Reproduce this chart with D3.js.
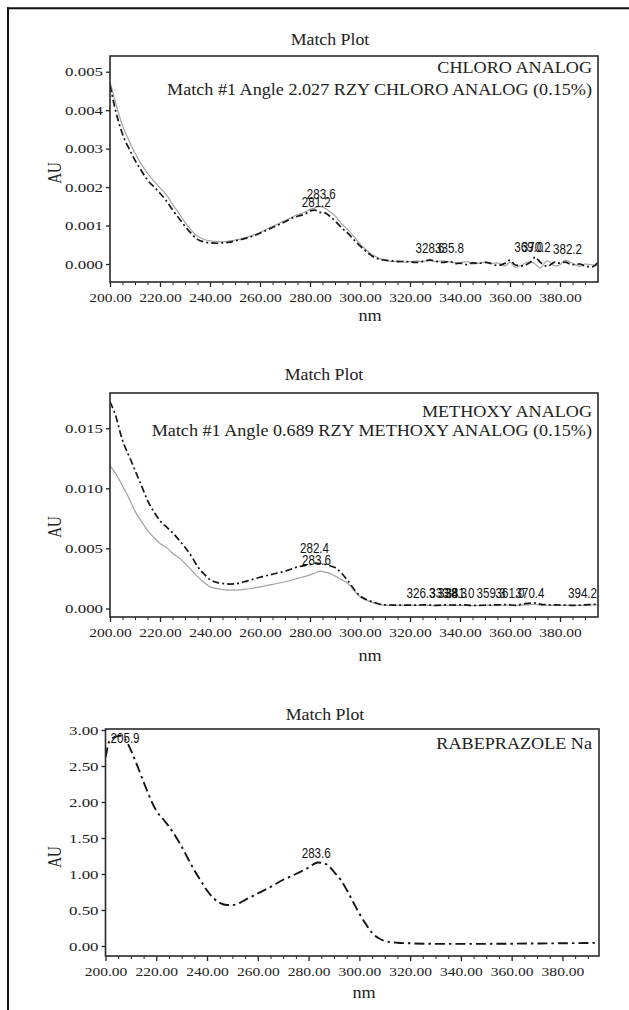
<!DOCTYPE html>
<html>
<head>
<meta charset="utf-8">
<script src="https://cdn.jsdelivr.net/npm/d3@7"></script>
<style>
  body { margin: 0; background: #fff; }
  svg { display: block; }
  .serif { font-family: "Liberation Serif", "Times New Roman", serif; fill: #222; }
  .peak { font-family: "Liberation Sans", Arial, sans-serif; fill: #111; }
  .tick line { stroke: #222; }
</style>
</head>
<body>
<svg id="chart" width="629" height="1010"></svg>
<script>
// ---- Panel 1: chloro analog (AU) ----
const nm1 = [200,202,205,208,210,213,215,218,220,223,225,228,230,233,235,238,240,243,245,248,
  250,255,260,265,270,273,275,278,280,282,284,286,288,290,293,295,298,300,303,305,
  308,310,313,315,318,320,323,325,328,330,333,336,338,340,343,345,348,350,353,355,
  358,360,362,365,367,369,370,372,375,378,380,382,385,388,390,393,395];
const chloroSample = [0.00465,0.00405,0.00338,0.00295,0.00270,0.00238,0.00218,0.00198,0.00184,0.00160,
  0.00141,0.00115,0.00098,0.00076,0.00064,0.00057,0.00055,0.00054,0.00055,0.00057,
  0.00060,0.00068,0.00080,0.00095,0.00110,0.00120,0.00124,0.00130,0.00138,0.00140,
  0.00134,0.00133,0.00124,0.00112,0.00092,0.00081,0.00060,0.00047,0.00030,0.00020,
  0.00012,0.00010,0.00008,0.00006,0.00007,0.00005,0.00004,0.00007,0.00010,0.00008,
  0.00004,0.00007,0.00001,0.00002,-0.00002,0.00003,0.00002,0.00004,0.00000,-0.00004,
  0.00002,0.00010,-0.00002,-0.00005,0.00000,0.00010,0.00018,0.00005,-0.00006,0.00005,
  0.00002,0.00005,-0.00002,0.00000,-0.00005,-0.00007,0.00003];
const chloroRef = [0.00475,0.00425,0.00360,0.00315,0.00288,0.00255,0.00236,0.00212,0.00198,0.00176,
  0.00155,0.00128,0.00108,0.00084,0.00072,0.00063,0.00060,0.00058,0.00058,0.00060,
  0.00062,0.00070,0.00082,0.00098,0.00113,0.00122,0.00128,0.00135,0.00142,0.00146,
  0.00150,0.00145,0.00136,0.00125,0.00102,0.00090,0.00068,0.00052,0.00034,0.00024,
  0.00014,0.00010,0.00006,0.00008,0.00005,0.00006,0.00008,0.00005,0.00012,0.00006,
  0.00008,0.00005,0.00003,0.00004,0.00006,0.00000,0.00003,0.00005,0.00002,0.00003,
  -0.00005,0.00005,-0.00008,-0.00002,0.00005,0.00004,0.00000,-0.00010,0.00008,-0.00005,
  -0.00002,0.00010,0.00002,-0.00006,0.00000,-0.00002,-0.00005];
const peakText1 = ["283.6","281.2","328.6","335.8","369.0","370.2","382.2"];
const peakNm1   = [284.5, 282.5, 328.0, 335.8, 367.5, 370.5, 383.0];
const peakAu1   = [0.00170, 0.00147, 0.00028, 0.00028, 0.00032, 0.00030, 0.00026];

// ---- Panel 2: methoxy analog (AU) ----
const nm2 = [200,202,205,208,210,213,215,218,220,223,225,228,230,233,235,238,240,243,245,248,
  250,255,260,265,270,275,280,282,284,286,288,290,293,295,298,300,303,305,308,310,
  315,320,326,330,334,338,341,345,350,355,359,362,366,370,373,378,382,386,390,394,395];
const methoxySample = [0.0172,0.0162,0.0140,0.0125,0.0115,0.0100,0.0090,0.0079,0.0073,0.0067,
  0.0063,0.0056,0.0051,0.0042,0.0035,0.0028,0.0024,0.00215,0.00208,0.00203,
  0.00205,0.0023,0.0026,0.00285,0.0031,0.00345,0.00365,0.00375,0.00374,0.00368,
  0.00355,0.0034,0.00285,0.00235,0.0015,0.00105,0.0007,0.00055,0.00035,0.0003,
  0.00028,0.00027,0.0003,0.00026,0.0003,0.00028,0.0003,0.00025,0.00027,0.0003,
  0.00032,0.00026,0.0004,0.00045,0.00032,0.0003,0.00028,0.00025,0.0003,0.00035,0.00038];
const methoxyRef = [0.0119,0.0113,0.0102,0.0090,0.0081,0.0071,0.0065,0.0058,0.0054,0.0050,
  0.0046,0.00415,0.00375,0.0031,0.00265,0.0021,0.0018,0.00165,0.00158,0.00152,
  0.00152,0.00162,0.0018,0.0020,0.00222,0.0025,0.0028,0.00295,0.0031,0.00302,
  0.00292,0.0027,0.00235,0.0021,0.0014,0.00098,0.00065,0.0005,0.00032,0.00027,
  0.00025,0.00025,0.00026,0.00024,0.00026,0.00025,0.00026,0.00024,0.00025,0.00026,
  0.00027,0.00025,0.0003,0.00033,0.00027,0.00026,0.00027,0.00025,0.00027,0.00029,0.0003];
const peakText2 = ["282.4","283.6","326.3","333.8","338.3","341.0","359.3","361.0","370.4","394.2"];
const peakNm2   = [281.8, 282.6, 324.4, 333.5, 337.0, 340.0, 352.4, 360.0, 368.0, 389.0];
const peakAu2   = [0.00462, 0.00362, 0.00088, 0.00088, 0.00088, 0.00088, 0.00088, 0.00088, 0.00088, 0.00088];

// ---- Panel 3: rabeprazole sodium (AU) ----
const nm3 = [200,200.5,201,202,203.5,205.9,208,210,212,215,218,220,223,225,228,230,233,235,238,240,
  243,245,248,250,253,255,260,265,270,275,280,283.6,286,288,290,293,295,298,300,303,
  305,308,310,313,315,320,330,340,350,360,370,380,390,395];
const rabeprazole = [2.62,2.70,2.80,2.86,2.90,2.92,2.86,2.72,2.55,2.28,2.02,1.88,1.75,1.66,1.50,1.38,1.18,1.05,0.88,0.77,
  0.65,0.60,0.57,0.57,0.60,0.64,0.73,0.82,0.92,1.00,1.09,1.16,1.15,1.11,1.03,0.90,0.78,0.58,0.45,0.28,
  0.18,0.10,0.07,0.05,0.045,0.037,0.030,0.030,0.030,0.032,0.035,0.038,0.042,0.045];
const peakText3 = ["205.9","283.6"];
const peakNm3   = [207.7, 283.0];
const peakAu3   = [2.82, 1.22];

// ---- axis ticks ----
const xTicks = [200,220,240,260,280,300,320,340,360,380];
const yTicks1 = [0,0.001,0.002,0.003,0.004,0.005];
const yTicks2 = [0,0.005,0.010,0.015];
const yTicks3 = [0,0.5,1.0,1.5,2.0,2.5,3.0];

const panels = [
  { left: 110, right: 598, top: 56, bottom: 282, xMax: 395.2, yDom: [-0.000468, 0.005408],
    yTicks: yTicks1, yFmt: d3.format(".3f"), titleY: 45, titleX: 330, nmX: 370, nmY: 321, auY: 173,
    names: ["CHLORO ANALOG", "Match #1 Angle 2.027 RZY CHLORO ANALOG (0.15%)"], nameY: [73, 95],
    nm: nm1, series: [{ v: chloroRef, kind: "ref" }, { v: chloroSample, kind: "sample" }],
    peaks: [peakText1, peakNm1, peakAu1] },
  { left: 110, right: 598, top: 393, bottom: 617, xMax: 395.2, yDom: [-0.00071, 0.01793],
    yTicks: yTicks2, yFmt: d3.format(".3f"), titleY: 380, titleX: 324, nmX: 370, nmY: 661, auY: 527,
    names: ["METHOXY ANALOG", "Match #1 Angle 0.689 RZY METHOXY ANALOG (0.15%)"], nameY: [417, 436],
    nm: nm2, series: [{ v: methoxyRef, kind: "ref" }, { v: methoxySample, kind: "sample" }],
    peaks: [peakText2, peakNm2, peakAu2] },
  { left: 105.5, right: 599, top: 729, bottom: 956, xMax: 394.4, yDom: [-0.139, 3.014],
    yTicks: yTicks3, yFmt: d3.format(".2f"), titleY: 720, titleX: 325, nmX: 364, nmY: 998, auY: 857,
    names: ["RABEPRAZOLE Na"], nameY: [749],
    nm: nm3, series: [{ v: rabeprazole, kind: "single" }],
    peaks: [peakText3, peakNm3, peakAu3] }
];

const svg = d3.select("#chart");

// outer frame (top and left edges only)
svg.append("line").attr("x1", 7).attr("x2", 629).attr("y1", 8.3).attr("y2", 8.3)
  .attr("stroke", "#111").attr("stroke-width", 2);
svg.append("line").attr("x1", 8).attr("x2", 8).attr("y1", 7.3).attr("y2", 1010)
  .attr("stroke", "#111").attr("stroke-width", 2);

// text stretched horizontally, the scan is wider than tall
function stext(g, x, y, str, cls, size, sx, anchor) {
  return g.append("text").attr("class", cls)
    .attr("transform", `translate(${x},${y}) scale(${sx},1)`)
    .attr("text-anchor", anchor || "middle")
    .attr("font-size", size)
    .text(str);
}

const lineStyle = {
  ref:    { stroke: "#a3a3a3", width: 1.2, dash: null },
  sample: { stroke: "#161616", width: 1.7, dash: "7,3,2,3" },
  single: { stroke: "#161616", width: 1.9, dash: "10,4,2.5,4" }
};

panels.forEach((p, i) => {
  const g = svg.append("g");
  const x = d3.scaleLinear().domain([200, p.xMax]).range([p.left, p.right]);
  const y = d3.scaleLinear().domain(p.yDom).range([p.bottom, p.top]);

  const clipId = "clip" + i;
  g.append("clipPath").attr("id", clipId).append("rect")
    .attr("x", p.left).attr("y", p.top - 6).attr("width", p.right - p.left).attr("height", p.bottom - p.top + 6);

  // minor x ticks every 5 nm
  g.append("g").attr("transform", `translate(0,${p.bottom})`)
    .call(d3.axisBottom(x).tickValues(d3.range(205, 395, 5).filter(v => v % 20 !== 0)).tickSize(3).tickFormat(""))
    .call(a => a.select(".domain").remove())
    .call(a => a.selectAll("line").attr("stroke", "#444"));

  // major x ticks
  const xa = g.append("g").attr("transform", `translate(0,${p.bottom})`)
    .call(d3.axisBottom(x).tickValues(xTicks).tickFormat(d3.format(".2f")).tickSize(5).tickPadding(5));
  xa.select(".domain").remove();
  xa.selectAll("line").attr("stroke-width", 1.3);
  xa.selectAll("text").attr("class", "serif").attr("font-size", 13.5)
    .attr("transform", "scale(1.15,1)").attr("fill", "#222");

  // y ticks
  const ya = g.append("g").attr("transform", `translate(${p.left},0)`)
    .call(d3.axisLeft(y).tickValues(p.yTicks).tickFormat(p.yFmt).tickSize(4).tickPadding(3));
  ya.select(".domain").remove();
  ya.selectAll("line").attr("stroke-width", 1.3);
  ya.selectAll("text").attr("class", "serif").attr("font-size", 13)
    .attr("x", -7 / 1.3).attr("transform", "scale(1.3,1)").attr("fill", "#222");

  // curves
  p.series.forEach(s => {
    const st = lineStyle[s.kind];
    const line = d3.line().x(d => x(d[0])).y(d => y(d[1])).curve(d3.curveMonotoneX);
    g.append("path").datum(d3.zip(p.nm, s.v))
      .attr("clip-path", `url(#${clipId})`)
      .attr("d", line)
      .attr("fill", "none")
      .attr("stroke", st.stroke)
      .attr("stroke-width", st.width)
      .attr("stroke-dasharray", st.dash)
      .attr("stroke-linejoin", "round");
  });

  // plot frame
  g.append("rect").attr("x", p.left).attr("y", p.top)
    .attr("width", p.right - p.left).attr("height", p.bottom - p.top)
    .attr("fill", "none").attr("stroke", "#2a2a2a").attr("stroke-width", 1.6);

  // peak labels
  const [txt, pnm, pau] = p.peaks;
  txt.forEach((t, k) => {
    stext(g, x(pnm[k]), y(pau[k]), t, "peak", 14.5, 0.8, "middle");
  });

  // titles and axis names
  stext(g, p.titleX, p.titleY, "Match Plot", "serif", 16.5, 1.08, "middle");
  p.names.forEach((n, k) => stext(g, 592, p.nameY[k], n, "serif", 16.5, 1.1, "end"));
  stext(g, p.nmX, p.nmY, "nm", "serif", 16.5, 1.1, "middle");
  g.append("text").attr("class", "serif")
    .attr("transform", `translate(61,${p.auY}) rotate(-90) scale(1,1.25)`)
    .attr("text-anchor", "middle").attr("font-size", 15).text("AU");
});
</script>
</body>
</html>
